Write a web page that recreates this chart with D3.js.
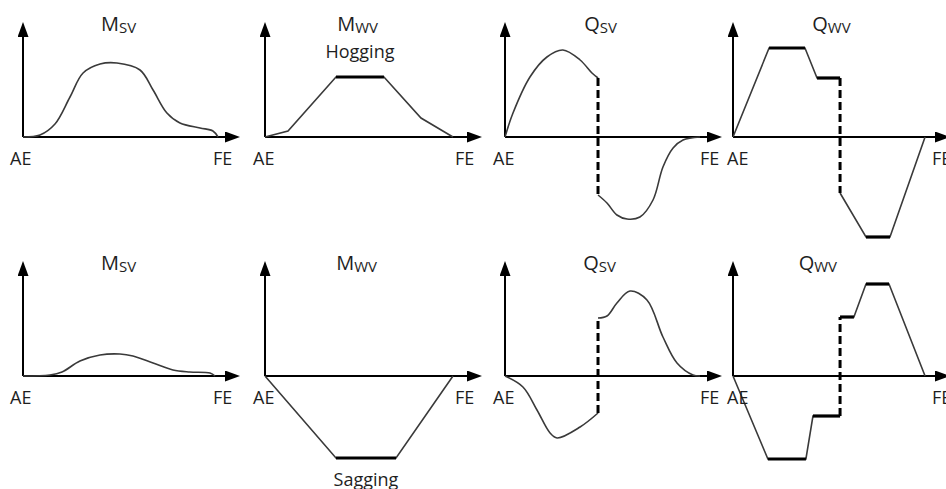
<!DOCTYPE html>
<html>
<head>
<meta charset="utf-8">
<script src="https://cdn.jsdelivr.net/npm/d3@7"></script>
<style>
body { margin: 0; background: #fff; }
text { font-family: "Open Sans", sans-serif; fill: #1e1e1e; }
</style>
</head>
<body>
<div id="chart"></div>
<script>
// values
// x = position along the ship in % of length (AE = 0, FE = 100)
// y = relative value (1 = largest wave shear force)

// still water bending moment
const msvHogging = [[0,0],[8.7,0.02],[16.4,0.13],[24.1,0.40],[30.8,0.64],[39.5,0.73],[48.2,0.74],[60,0.67],[66.7,0.47],[73.8,0.24],[80.5,0.14],[90.8,0.09],[97.4,0.06],[100,0]];
const msvSagging = [[0,0],[13.8,0.01],[20,0.04],[29.2,0.15],[39.5,0.21],[49.7,0.22],[56.4,0.20],[66.7,0.13],[76.9,0.06],[85.6,0.04],[95.9,0.03],[98.5,0]];

// wave bending moment
const mwvHogging = [[0,0],[11.8,0.06],[36.4,0.60],[61,0.60],[80,0.19],[96.4,0]];
const mwvSagging = [[0,0],[36.4,-0.82],[67.2,-0.82],[96.4,0]];

// still water shear force, aft part and fore part of the jump
const qsvHogAft = [[0,0],[4.1,0.24],[12.8,0.60],[21.5,0.80],[29.7,0.87],[38.5,0.77],[44.6,0.64],[47.7,0.59]];
const qsvHogFwd = [[47.7,-0.58],[52.3,-0.66],[57.4,-0.78],[62.6,-0.82],[69.2,-0.80],[75.9,-0.63],[81,-0.30],[86.2,-0.11],[91.3,-0.03],[100,0]];
const qsvSagAft = [[0,0],[9.2,-0.11],[16.4,-0.34],[23.1,-0.57],[26.7,-0.62],[38.5,-0.51],[47.7,-0.37]];
const qsvSagFwd = [[47.7,0.58],[52.3,0.60],[57.4,0.73],[64.1,0.85],[72.8,0.76],[81,0.39],[88.2,0.13],[96.4,0.01],[100,0]];

// wave shear force
const qwvHogAft = [[0,0],[18.5,0.89],[36.9,0.89],[43.1,0.59],[54.9,0.59]];
const qwvHogFwd = [[54.9,-0.56],[68.2,-1.0],[80.5,-1.0],[98.5,0]];
const qwvSagAft = [[0,0],[17.9,-0.83],[37.4,-0.83],[41,-0.40],[54.9,-0.40]];
const qwvSagFwd = [[54.9,0.59],[62,0.59],[68.2,0.92],[80,0.92],[98.5,0]];

const titles = [["M","SV"],["M","WV"],["Q","SV"],["Q","WV"]];
const endLabels = ["AE","FE"];
const conditions = ["Hogging","Sagging"];

// layout
const width = 946, height = 489;
const colX = [23, 265, 505, 733];
const rowY = [137, 376];
const aeX = [10, 253, 493, 727];
const feX = [213, 455, 700, 932];

const panels = [
    {row:0, col:0, title:titles[0], branches:[msvHogging], smooth:true, titleAt:49},
    {row:0, col:1, title:titles[1], branches:[mwvHogging], label:conditions[0], titleAt:47.5},
    {row:0, col:2, title:titles[2], branches:[qsvHogAft, qsvHogFwd], smooth:true, titleAt:49},
    {row:0, col:3, title:titles[3], branches:[qwvHogAft, qwvHogFwd], titleAt:50.5},
    {row:1, col:0, title:titles[0], branches:[msvSagging], smooth:true, titleAt:49},
    {row:1, col:1, title:titles[1], branches:[mwvSagging], label:conditions[1], titleAt:47},
    {row:1, col:2, title:titles[2], branches:[qsvSagAft, qsvSagFwd], smooth:true, titleAt:48.5},
    {row:1, col:3, title:titles[3], branches:[qwvSagAft, qwvSagFwd], titleAt:43.5}
];

// scales shared by every panel (origin at the axis crossing)
const x = d3.scaleLinear().domain([0, 100]).range([0, 195]);
const y = d3.scaleLinear().domain([-1, 1]).range([100, -100]);
const axisLen = 217, axisUp = 115;

const svg = d3.select("#chart")
    .append("svg")
    .attr("width", width)
    .attr("height", height);

// arrow head
svg.append("defs").append("marker")
    .attr("id", "arrow")
    .attr("viewBox", "0 0 15 11")
    .attr("refX", 3)
    .attr("refY", 5.5)
    .attr("markerWidth", 15)
    .attr("markerHeight", 11)
    .attr("markerUnits", "userSpaceOnUse")
    .attr("orient", "auto")
    .append("path")
    .attr("d", "M0,0L15,5.5L0,11Z")
    .attr("fill", "#000");

const smoothLine = d3.line().x(d => x(d[0])).y(d => y(d[1])).curve(d3.curveCatmullRom.alpha(0.5));
const straightLine = d3.line().x(d => x(d[0])).y(d => y(d[1]));

// consecutive points at the same (non zero) level
function flatParts(b) {
    const out = [];
    for (let i = 1; i < b.length; i++) {
        if (b[i][1] === b[i-1][1] && b[i][1] !== 0) out.push([b[i-1], b[i]]);
    }
    return out;
}

panels.forEach(function(p) {
    const g = svg.append("g")
        .attr("transform", `translate(${colX[p.col]},${rowY[p.row]})`);

    // axes
    g.append("line")
        .attr("x1", 0).attr("y1", 0)
        .attr("x2", axisLen - 12).attr("y2", 0)
        .attr("stroke", "#000").attr("stroke-width", 2)
        .attr("marker-end", "url(#arrow)");
    g.append("line")
        .attr("x1", 0).attr("y1", 0)
        .attr("x2", 0).attr("y2", -axisUp + 12)
        .attr("stroke", "#000").attr("stroke-width", 2)
        .attr("marker-end", "url(#arrow)");

    // curves
    p.branches.forEach(function(b) {
        g.append("path")
            .attr("d", (p.smooth ? smoothLine : straightLine)(b))
            .attr("fill", "none")
            .attr("stroke", "#3a3a3a")
            .attr("stroke-width", 1.6);

        // flat parts are drawn heavy
        if (!p.smooth) {
            flatParts(b).forEach(function(s) {
                g.append("line")
                    .attr("x1", x(s[0][0])).attr("y1", y(s[0][1]))
                    .attr("x2", x(s[1][0])).attr("y2", y(s[1][1]))
                    .attr("stroke", "#000").attr("stroke-width", 3.2);
            });
        }
    });

    // jump between aft and fore parts
    if (p.branches.length > 1) {
        const a = p.branches[0][p.branches[0].length - 1];
        const f = p.branches[1][0];
        g.append("line")
            .attr("x1", x(a[0])).attr("y1", y(a[1]))
            .attr("x2", x(f[0])).attr("y2", y(f[1]))
            .attr("stroke", "#000").attr("stroke-width", 3)
            .attr("stroke-dasharray", "8,4");
    }

    // title
    const t = g.append("text")
        .attr("x", x(p.titleAt))
        .attr("y", -106)
        .attr("text-anchor", "middle");
    t.append("tspan").attr("font-size", "20px").text(p.title[0]);
    t.append("tspan").attr("font-size", "15px").attr("dy", 1.5).text(p.title[1]);

    // hogging / sagging label next to the flat part
    if (p.label) {
        const s = flatParts(p.branches[0])[0];
        const mid = (s[0][0] + s[1][0]) / 2;
        const fy = y(s[0][1]);
        g.append("text")
            .attr("x", x(mid))
            .attr("y", s[0][1] > 0 ? fy - 19 : fy + 28)
            .attr("text-anchor", "middle")
            .attr("font-size", "18px")
            .text(p.label);
    }

    // end labels
    g.append("text")
        .attr("x", aeX[p.col] - colX[p.col])
        .attr("y", 28)
        .attr("font-size", "18px")
        .text(endLabels[0]);
    g.append("text")
        .attr("x", feX[p.col] - colX[p.col])
        .attr("y", 28)
        .attr("font-size", "18px")
        .text(endLabels[1]);
});
</script>
</body>
</html>
